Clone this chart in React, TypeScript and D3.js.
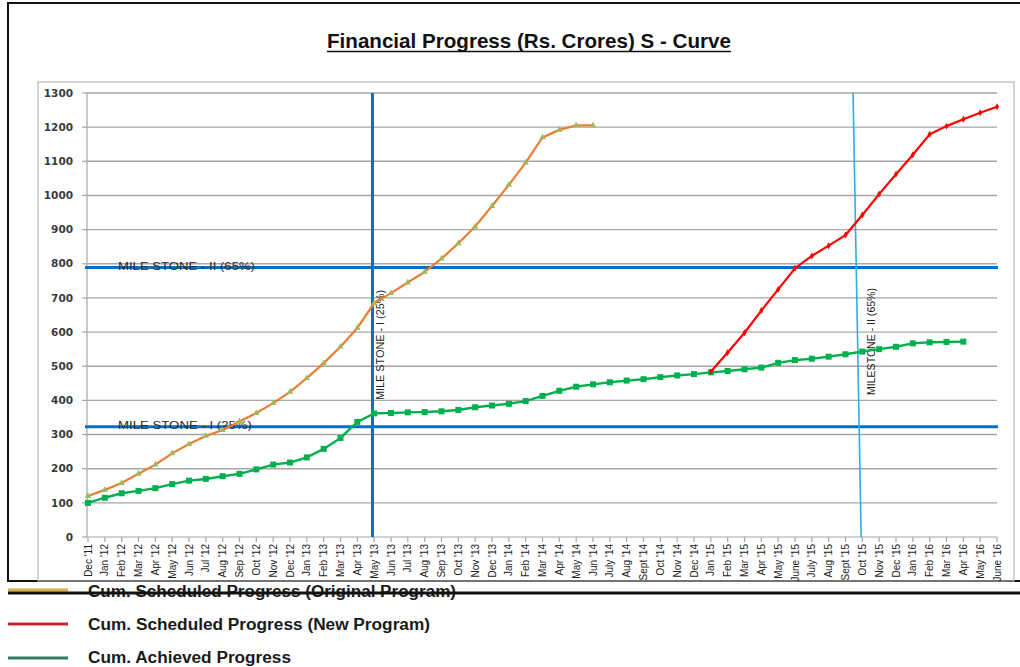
import React from "react";
import * as d3 from "d3";

const categories = [
  "Dec '11", "Jan '12", "Feb '12", "Mar '12", "Apr '12", "May '12", "Jun '12", "Jul '12", "Aug '12", "Sep '12", "Oct '12", "Nov '12", "Dec '12",
  "Jan '13", "Feb '13", "Mar '13", "Apr '13", "May '13", "Jun '13", "Jul '13", "Aug '13", "Sep '13", "Oct '13", "Nov '13", "Dec '13",
  "Jan '14", "Feb '14", "Mar '14", "Apr '14", "May '14", "Jun '14", "July '14", "Aug '14", "Sept '14", "Oct '14", "Nov '14", "Dec '14",
  "Jan '15", "Feb '15", "Mar '15", "Apr '15", "May '15", "June '15", "July '15", "Aug '15", "Sept '15", "Oct '15", "Nov '15", "Dec '15",
  "Jan '16", "Feb '16", "Mar '16", "Apr '16", "May '16", "June '16",
];

// Cum. Scheduled Progress (Original Program): Dec '11 .. Jun '14
const originalProgram = [
  120, 138, 158, 185, 212, 245, 272, 296, 313, 338, 363, 392, 425,
  465, 509, 557, 612, 685, 714, 745, 776, 815, 860, 909, 969,
  1031, 1096, 1170, 1192, 1205, 1205,
];

// Cum. Scheduled Progress (New Program): Jan '15 .. June '16
const newProgramStart = 37;
const newProgram = [
  484, 540, 598, 663, 725, 787, 823, 853, 884, 943, 1004, 1062, 1119, 1179, 1203, 1223, 1242, 1260,
];

// Cum. Achieved Progress: Dec '11 .. Apr '16
const achieved = [
  100, 115, 128, 135, 143, 155, 165, 170, 178, 185, 198, 212, 218,
  233, 258, 290, 337, 362, 363, 365, 366, 368, 372, 380, 385,
  390, 398, 413, 428, 440, 447, 453, 458, 462, 468, 473, 477,
  482, 486, 491, 496, 510, 518, 522, 528, 535, 543, 550, 557,
  567, 570, 571, 572,
];

const yTicks = [0, 100, 200, 300, 400, 500, 600, 700, 800, 900, 1000, 1100, 1200, 1300];

// Milestones
const milestoneLevels = [
  { label: "MILE STONE - II (65%)", value: 789 },
  { label: "MILE STONE - I (25%)", value: 323 },
];
const milestoneIIndex = 16.9; // May '13
const milestoneIIIndexTop = 45.45; // Oct '15 (slanted)
const milestoneIIIndexBottom = 45.93;

const legendItems = [
  { label: "Cum. Scheduled Progress (Original Program)", color: "#d9ad45", len: 368 },
  { label: "Cum. Scheduled Progress (New Program)", color: "#c4262e", len: 342 },
  { label: "Cum. Achieved Progress", color: "#2f7d5c", len: 203 },
];

export default function App() {
  const W = 1020;
  const H = 667;
  const left = 88;
  const right = 997;
  const top = 93;
  const bottom = 537;

  const x = d3.scalePoint<string>().domain(categories).range([left, right]);
  const xi = d3.scaleLinear().domain([0, categories.length - 1]).range([left, right]);
  const y = d3.scaleLinear().domain([0, 1300]).range([bottom, top]);

  const line = d3
    .line<[number, number]>()
    .x((d) => xi(d[0]))
    .y((d) => y(d[1]));

  const origPts: [number, number][] = originalProgram.map((v, i) => [i, v]);
  const newPts: [number, number][] = newProgram.map((v, i) => [i + newProgramStart, v]);
  const achPts: [number, number][] = achieved.map((v, i) => [i, v]);

  const tri = d3.symbol().type(d3.symbolTriangle).size(18)() as string;
  const dia = d3.symbol().type(d3.symbolDiamond).size(14)() as string;

  return (
    <svg
      width={W}
      height={H}
      style={{ position: "absolute", left: 0, top: 0, background: "#fff" }}
      fontFamily="'Liberation Sans', Arial, sans-serif"
    >
      <rect x={0} y={0} width={W} height={H} fill="#fff" />
      {/* outer frame */}
      <rect x={8} y={3} width={1030} height={578} fill="none" stroke="#111" strokeWidth={2} />
      {/* inner chart box */}
      <rect x={38} y={82} width={976} height={499} fill="none" stroke="#b8b8b8" strokeWidth={1.2} />

      {/* title */}
      <text
        x={529}
        y={48}
        textAnchor="middle"
        fontFamily="'Liberation Sans Narrow', 'Liberation Sans', Arial, sans-serif"
        fontWeight="bold"
        fontSize={21}
        fill="#111"
        textLength={404}
        lengthAdjust="spacingAndGlyphs"
      >
        Financial Progress (Rs. Crores) S - Curve
      </text>
      <line x1={327} x2={731} y1={51.5} y2={51.5} stroke="#111" strokeWidth={1.5} />

      {/* grid lines */}
      {yTicks.filter((t) => t > 0).map((t) => (
        <line key={"g" + t} x1={left - 1} x2={right} y1={y(t)} y2={y(t)} stroke="#a6a6a6" strokeWidth={1.4} />
      ))}
      {/* y axis */}
      <line x1={left - 1} x2={left - 1} y1={top} y2={bottom} stroke="#a6a6a6" strokeWidth={1.2} />
      {yTicks.map((t) => (
        <g key={"yt" + t}>
          <line x1={left - 6} x2={left - 1} y1={y(t)} y2={y(t)} stroke="#a6a6a6" strokeWidth={1.2} />
          <text
            x={73}
            y={y(t)}
            dy="0.35em"
            textAnchor="end"
            fontFamily="'DejaVu Sans', sans-serif"
            fontWeight="bold"
            fontSize={10.5}
            fill="#3a3a3a"
          >
            {t}
          </text>
        </g>
      ))}
      {/* x axis */}
      <line x1={left - 1} x2={right} y1={bottom} y2={bottom} stroke="#a6a6a6" strokeWidth={1.2} />
      {categories.map((c) => (
        <g key={"xt" + c}>
          <line x1={x(c)!} x2={x(c)!} y1={bottom} y2={bottom + 5} stroke="#a6a6a6" strokeWidth={1.2} />
          <text
            transform={`translate(${x(c)! + 3.5},${bottom + 7}) rotate(-90)`}
            textAnchor="end"
            fontSize={10}
            fill="#222"
          >
            {c}
          </text>
        </g>
      ))}

      {/* horizontal milestone lines */}
      {milestoneLevels.map((m) => (
        <g key={m.label}>
          <line x1={left - 3} x2={right + 1} y1={y(m.value)} y2={y(m.value)} stroke="#0a6fc2" strokeWidth={3} />
          <text
            x={118}
            y={y(m.value) + 2}
            fontSize={11.5}
            fill="#2a2a2a"
            textLength={m.value > 500 ? 137 : 134}
            lengthAdjust="spacingAndGlyphs"
          >
            {m.label}
          </text>
        </g>
      ))}

      {/* vertical milestone I */}
      <line x1={xi(milestoneIIndex)} x2={xi(milestoneIIndex)} y1={top} y2={bottom} stroke="#0a6fc2" strokeWidth={3} />
      <text
        transform={`translate(${xi(milestoneIIndex) + 12},400) rotate(-90)`}
        fontSize={11}
        fill="#222"
        textLength={110}
        lengthAdjust="spacingAndGlyphs"
      >
        MILE STONE - I (25%)
      </text>

      {/* vertical milestone II (slanted) */}
      <line
        x1={xi(milestoneIIIndexTop)}
        x2={xi(milestoneIIIndexBottom)}
        y1={top}
        y2={bottom}
        stroke="#2eaee6"
        strokeWidth={1.6}
      />
      <text
        transform={`translate(${xi(milestoneIIIndexBottom) + 14},395) rotate(-90)`}
        fontSize={10.5}
        fill="#222"
        textLength={107}
        lengthAdjust="spacingAndGlyphs"
      >
        MILESTONE - II  (65%)
      </text>

      {/* series: original program */}
      <path d={line(origPts)!} fill="none" stroke="#ed7d31" strokeWidth={2.2} />
      {origPts.map((p, i) => (
        <path key={"o" + i} d={tri} transform={`translate(${xi(p[0])},${y(p[1])})`} fill="#9bbb59" />
      ))}

      {/* series: achieved */}
      <path d={line(achPts)!} fill="none" stroke="#00b050" strokeWidth={2.4} />
      {achPts.map((p, i) => (
        <rect key={"a" + i} x={xi(p[0]) - 3} y={y(p[1]) - 3} width={6} height={6} fill="#00b050" />
      ))}

      {/* series: new program */}
      <path d={line(newPts)!} fill="none" stroke="#ff0000" strokeWidth={2.2} />
      {newPts.map((p, i) => (
        <path key={"n" + i} d={dia} transform={`translate(${xi(p[0])},${y(p[1])})`} fill="#ff0000" />
      ))}

      {/* legend */}
      {legendItems.map((l, i) => (
        <g key={l.label}>
          <line x1={8} x2={68} y1={590 + i * 34} y2={590 + i * 34} stroke={l.color} strokeWidth={3} />
          <text
            x={88}
            y={597 + i * 33}
            fontWeight="bold"
            fontSize={16}
            fill="#1a1a1a"
            textLength={l.len}
            lengthAdjust="spacingAndGlyphs"
          >
            {l.label}
          </text>
        </g>
      ))}
      <line x1={8} x2={W} y1={593} y2={593} stroke="#111" strokeWidth={3} />
    </svg>
  );
}
